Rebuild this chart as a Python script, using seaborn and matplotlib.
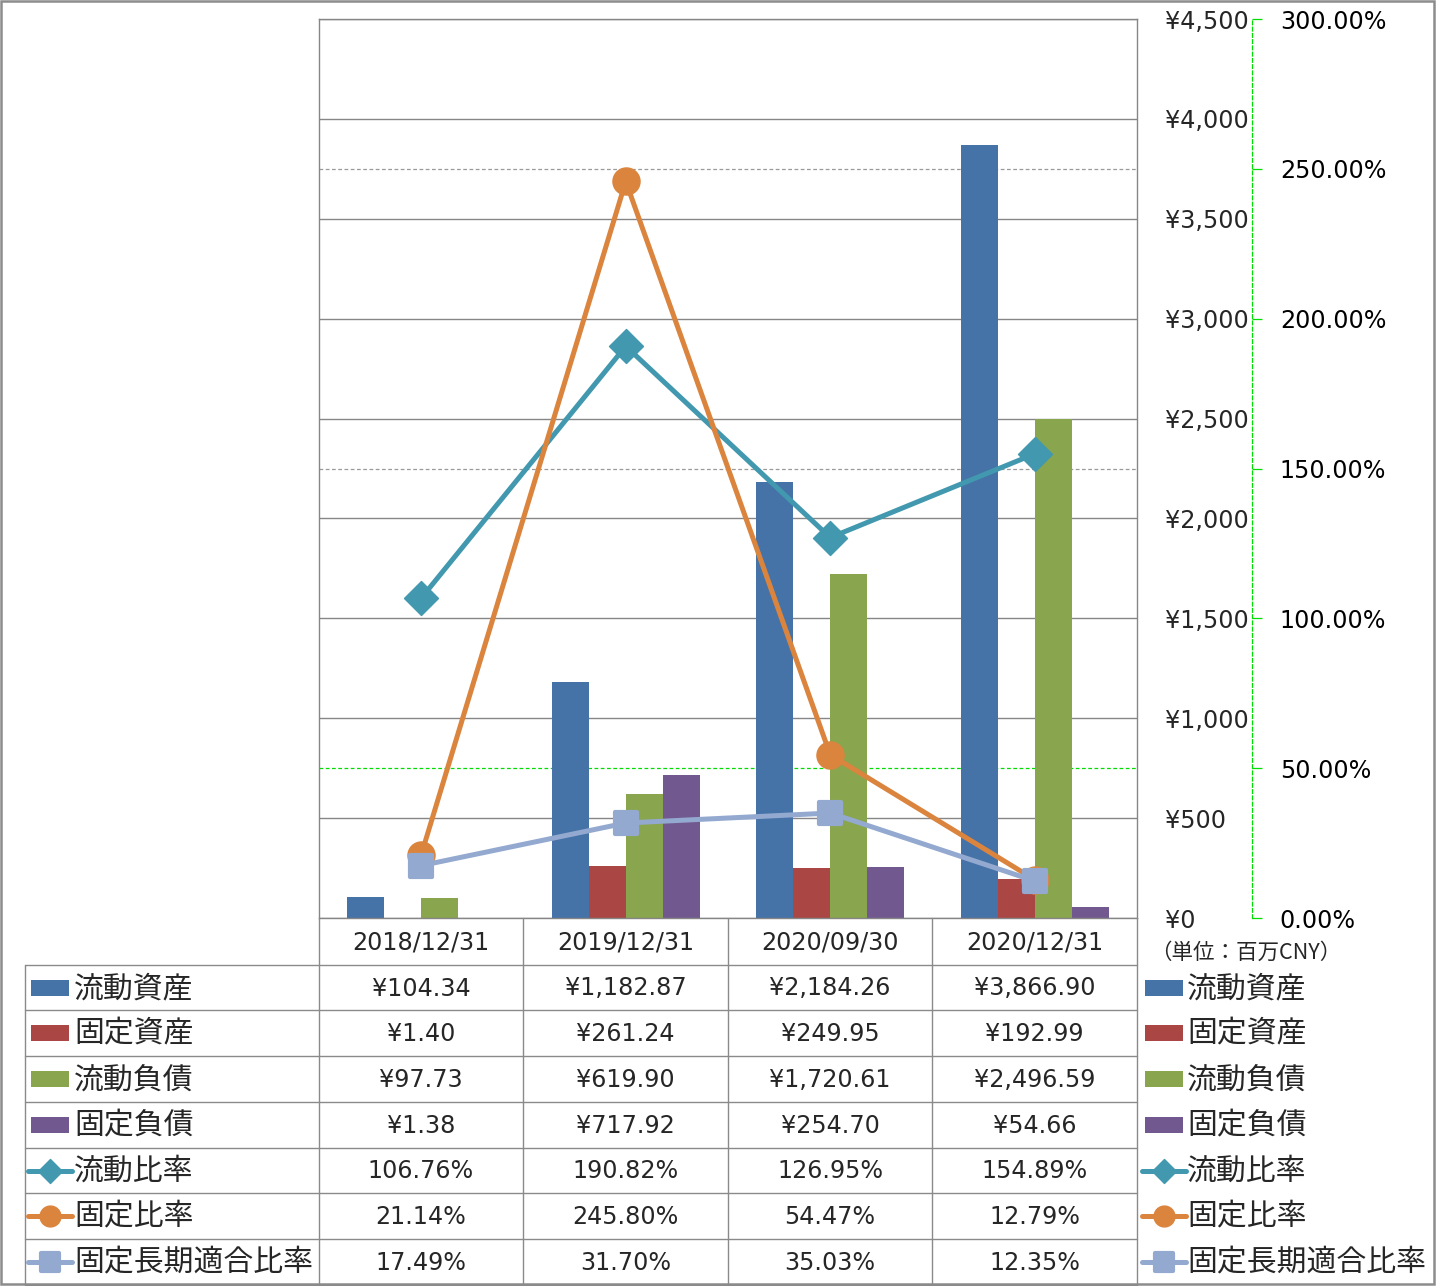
import numpy as np
import pandas as pd
import matplotlib
matplotlib.use("Agg")
import matplotlib.pyplot as plt
import seaborn as sns
from matplotlib.patches import Rectangle
from matplotlib.markers import MarkerStyle

# ---------------- data ----------------
categories = ["2018/12/31", "2019/12/31", "2020/09/30", "2020/12/31"]

bar_series = ["流動資産", "固定資産", "流動負債", "固定負債"]
current_assets = [104.34, 1182.87, 2184.26, 3866.90]
fixed_assets = [1.40, 261.24, 249.95, 192.99]
current_liabilities = [97.73, 619.90, 1720.61, 2496.59]
fixed_liabilities = [1.38, 717.92, 254.70, 54.66]
bar_values = [current_assets, fixed_assets, current_liabilities, fixed_liabilities]

line_series = ["流動比率", "固定比率", "固定長期適合比率"]
current_ratio = [106.76, 190.82, 126.95, 154.89]
fixed_ratio = [21.14, 245.80, 54.47, 12.79]
fixed_long_term_ratio = [17.49, 31.70, 35.03, 12.35]
line_values = [current_ratio, fixed_ratio, fixed_long_term_ratio]

left_ticks = [0, 500, 1000, 1500, 2000, 2500, 3000, 3500, 4000, 4500]
right_ticks = [0, 50, 100, 150, 200, 250, 300]
dashed_right_grid = [150, 250]
green_right_grid = [50]
unit_label = "（単位：百万CNY）"

# ---------------- style ----------------
bar_colors = ["#4572A7", "#AA4643", "#89A54E", "#71588F"]
line_colors = ["#4198AF", "#DB843D", "#93A9CF"]
line_markers = ["D", "o", "s"]
plot_marker_sizes = [17.5, 19.5, 16.5]
legend_marker_sizes = [12.5, 15, 12.5]
GRID = "#868686"
TABLE = "#8a8a8a"
GREEN = "#00DD00"

W, H, DPI = 1436, 1286, 100
sns.set_style("white")
plt.rcParams["font.family"] = ["DejaVu Sans", "Noto Sans CJK JP"]
LAT_FS = 17.2
CJK_FS = 21.5
CJK = ["Noto Sans CJK JP", "DejaVu Sans"]

fig = plt.figure(figsize=(W / DPI, H / DPI), dpi=DPI)
fig.patch.set_facecolor("white")

PL, PR, PT, PB = 319, 1137, 19, 918
ax = fig.add_axes([PL / W, 1 - PB / H, (PR - PL) / W, (PB - PT) / H])

rows = []
for s, vals in zip(bar_series, bar_values):
    for c, v in zip(categories, vals):
        rows.append({"category": c, "series": s, "value": v})
bar_df = pd.DataFrame(rows)

sns.barplot(data=bar_df, x="category", y="value", hue="series", order=categories,
            hue_order=bar_series, palette=bar_colors, saturation=1, width=0.725,
            errorbar=None, legend=False, linewidth=0, ax=ax)

ymax_left = left_ticks[-1]
ymax_right = right_ticks[-1]

# ---------------- lines ----------------
ax2 = ax.twinx()
rows = []
for s, vals in zip(line_series, line_values):
    for i, v in enumerate(vals):
        rows.append({"pos": i, "series": s, "value": v})
line_df = pd.DataFrame(rows)
sns.lineplot(data=line_df, x="pos", y="value", hue="series", hue_order=line_series,
             palette=line_colors, style="series", style_order=line_series,
             markers=line_markers, dashes=False, lw=3.6, sort=False,
             errorbar=None, legend=False, ax=ax2)
for ln, c, ms, mk in zip(ax2.lines, line_colors, plot_marker_sizes, line_markers):
    ln.set_marker(MarkerStyle(mk, joinstyle="round"))
    ln.set_markersize(ms)
    ln.set_markerfacecolor(c)
    ln.set_markeredgecolor(c)
    ln.set_markeredgewidth(3 if mk == "s" else 1)
    ln.set_solid_capstyle("round")

# primary axis
ax.set_xlim(-0.5, len(categories) - 0.5)
ax.set_ylim(0, ymax_left)
ax.set_yticks(left_ticks)
ax.set_yticklabels([f"¥{t:,.0f}" for t in left_ticks])
ax.yaxis.tick_right()
ax.yaxis.set_label_position("right")
ax.tick_params(axis="y", length=0, pad=20, labelsize=LAT_FS, labelright=True, labelleft=False)
ax.tick_params(axis="x", length=0, labelbottom=False)
ax.set_xlabel("")
ax.set_ylabel("")
ax.yaxis.grid(True, color=GRID, lw=1.0)
ax.set_axisbelow(True)
for sp in ax.spines.values():
    sp.set_color(GRID)
    sp.set_linewidth(1.0)
for p in dashed_right_grid:
    ax.axhline(p * ymax_left / ymax_right, color="#9a9a9a", lw=0.9, ls=(0, (3, 2)), zorder=0.6)
for p in green_right_grid:
    ax.axhline(p * ymax_left / ymax_right, color=GREEN, lw=0.9, ls=(0, (3, 2)), zorder=0.6)

# secondary axis
ax2.set_xlim(-0.5, len(categories) - 0.5)
ax2.set_ylim(0, ymax_right)
ax2.set_yticks(right_ticks)
ax2.set_yticklabels([f"{t:.2f}%" for t in right_ticks])
ax2.set_xlabel("")
ax2.set_ylabel("")
for k in ["left", "top", "bottom"]:
    ax2.spines[k].set_visible(False)
ax2.spines["right"].set_position(("axes", (1252 - PL) / (PR - PL)))
ax2.spines["right"].set_color(GREEN)
ax2.spines["right"].set_linestyle((0, (3, 2)))
ax2.spines["right"].set_linewidth(0.9)
ax2.tick_params(axis="y", color=GREEN, labelcolor="black", length=7, width=0.9, pad=13,
                labelsize=LAT_FS)
ax2.tick_params(axis="x", length=0, labelbottom=False)

# ---------------- table & legends ----------------
ov = fig.add_axes([0, 0, 1, 1], zorder=5)
ov.set_xlim(0, W)
ov.set_ylim(H, 0)
ov.axis("off")
ov.patch.set_visible(False)

col_x = [319, 523, 728, 932, 1137]
row_y = [965, 1010, 1056, 1102, 1148, 1193, 1239, 1285]
for x in col_x:
    ov.plot([x, x], [PB, row_y[-1]], color=TABLE, lw=1.0)
ov.plot([25, 25], [row_y[0], row_y[-1]], color=TABLE, lw=1.0)
for y in row_y:
    ov.plot([25, PR], [y, y], color=TABLE, lw=1.0)

for i, c in enumerate(categories):
    ov.text((col_x[i] + col_x[i + 1]) / 2, (PB + row_y[0]) / 2 + 1, c,
            ha="center", va="center", fontsize=LAT_FS)

names = bar_series + line_series
values = bar_values + line_values
for r, (name, vals) in enumerate(zip(names, values)):
    yc = (row_y[r] + row_y[r + 1]) / 2
    is_bar = r < len(bar_series)
    for i, v in enumerate(vals):
        txt = f"¥{v:,.2f}" if is_bar else f"{v:.2f}%"
        ov.text((col_x[i] + col_x[i + 1]) / 2, yc + 1, txt, ha="center", va="center",
                fontsize=LAT_FS)
    for (kx0, kx1, tx) in [(30, 70, 74), (1144, 1184, 1187)]:
        if is_bar:
            ov.add_patch(Rectangle((kx0 + 1, yc - 8), kx1 - kx0 - 2, 16,
                                   color=bar_colors[r], lw=0))
        else:
            j = r - len(bar_series)
            ov.plot([kx0 - 2, kx1 + 2], [yc, yc], color=line_colors[j], lw=3.6,
                    solid_capstyle="round")
            mk = line_markers[j]
            ov.plot([(kx0 + kx1) / 2], [yc], marker=MarkerStyle(mk, joinstyle="round"),
                    ms=legend_marker_sizes[j], color=line_colors[j],
                    mec=line_colors[j], mew=3 if mk == "s" else 1)
        ov.text(tx, yc + 1, name, ha="left", va="center", fontsize=CJK_FS, family=CJK)

ov.text(1150, 953, unit_label, ha="left", va="center", fontsize=15.5, family=CJK)

ov.add_patch(Rectangle((1, 1), W - 3, H - 3, fill=False, ec="#8c8c8c", lw=1.8))

fig.savefig("out.png", dpi=DPI)
